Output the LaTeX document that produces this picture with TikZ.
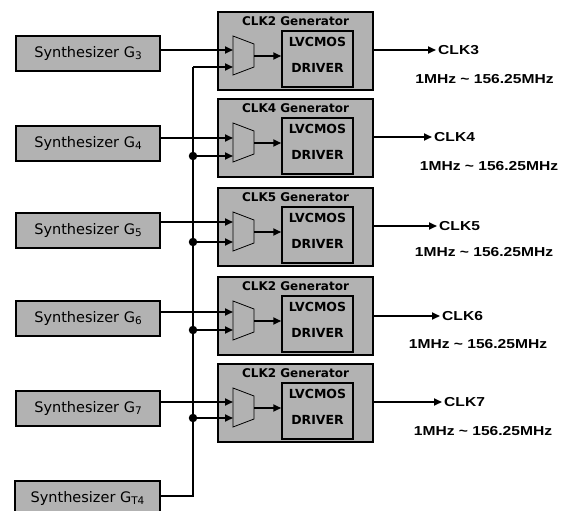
\documentclass[tikz,border=0pt]{standalone}
\usepackage{fontspec}
\setmainfont{DejaVu Sans}
\newfontfamily\lblfont[FakeStretch=1.2]{Liberation Sans}
\newcommand{\gsub}[1]{\raisebox{-0.3ex}{\fontsize{10.5}{11}\selectfont #1}}
\usetikzlibrary{arrows.meta}

\begin{document}
\begin{tikzpicture}[x=1pt,y=-1pt,
  synbox/.style={draw,line width=2pt,fill=black!30,minimum width=144pt,minimum height=35pt,inner sep=0pt,font=\fontsize{14.5}{16}\selectfont},
  genbox/.style={draw,line width=2pt,fill=black!30,minimum width=155pt,minimum height=78pt,inner sep=0pt},
  drvbox/.style={draw,line width=1.5pt,fill=black!30,minimum width=71pt,minimum height=56pt,inner sep=0pt},
  gentitle/.style={font=\bfseries\fontsize{12}{13}\selectfont,inner sep=0pt},
  drvtext/.style={align=center,font=\bfseries\fontsize{12.5}{26}\selectfont,inner sep=0pt},
  mux/.style={draw,line width=0.8pt,fill=black!30},
  sig/.style={line width=1.8pt},
  arr/.style={sig,-{Triangle[length=8pt,width=7pt]}},
  dot/.style={circle,fill,inner sep=0pt,minimum size=8.5pt},
  clk/.style={font=\lblfont\bfseries\fontsize{13}{15}\selectfont,anchor=west,inner sep=2pt},
  freq/.style={font=\lblfont\bfseries\fontsize{13}{15}\selectfont,inner sep=0pt}]
\useasboundingbox (0,0) rectangle (570,511);

% synthesizers
\node[synbox] (syn3) at (88,53.5) {Synthesizer G\gsub{3}};
\node[synbox] (syn4) at (88,143.5) {Synthesizer G\gsub{4}};
\node[synbox] (syn5) at (88,230) {Synthesizer G\gsub{5}};
\node[synbox] (syn6) at (88,318.5) {Synthesizer G\gsub{6}};
\node[synbox] (syn7) at (88,408.5) {Synthesizer G\gsub{7}};
\node[synbox,minimum width=145pt] (synt) at (87.5,498.5) {Synthesizer G\gsub{T4}};

% generator 1
\node[genbox] (gen1) at (295.5,51) {};
\node[gentitle] (tit1) at (295.5,21) {CLK2 Generator};
\node[drvbox] (drv1) at (317.5,59) {};
\node[drvtext] (txt1) at (317.5,55) {LVCMOS\\DRIVER};
\draw[mux] (233,36) -- (254,44) -- (254,67) -- (233,75) -- cycle;
\coordinate (mo1) at (254,56);
\coordinate (ia1) at (233,50);
\coordinate (ib1) at (233,67);
\draw[arr] (mo1) -- (mo1 -| drv1.west);

% generator 2
\node[genbox] (gen2) at (295.5,138) {};
\node[gentitle] (tit2) at (295.5,108) {CLK4 Generator};
\node[drvbox] (drv2) at (317.5,146) {};
\node[drvtext] (txt2) at (317.5,142) {LVCMOS\\DRIVER};
\draw[mux] (233,123) -- (254,131) -- (254,154) -- (233,162) -- cycle;
\coordinate (mo2) at (254,143);
\coordinate (ia2) at (233,138);
\coordinate (ib2) at (233,156);
\draw[arr] (mo2) -- (mo2 -| drv2.west);

% generator 3
\node[genbox] (gen3) at (295.5,227) {};
\node[gentitle] (tit3) at (295.5,197) {CLK5 Generator};
\node[drvbox] (drv3) at (317.5,235) {};
\node[drvtext] (txt3) at (317.5,231) {LVCMOS\\DRIVER};
\draw[mux] (233,212) -- (254,220) -- (254,243) -- (233,251) -- cycle;
\coordinate (mo3) at (254,232);
\coordinate (ia3) at (233,222);
\coordinate (ib3) at (233,242);
\draw[arr] (mo3) -- (mo3 -| drv3.west);

% generator 4
\node[genbox] (gen4) at (295.5,316) {};
\node[gentitle] (tit4) at (295.5,286) {CLK2 Generator};
\node[drvbox] (drv4) at (317.5,324) {};
\node[drvtext] (txt4) at (317.5,320) {LVCMOS\\DRIVER};
\draw[mux] (233,301) -- (254,309) -- (254,332) -- (233,340) -- cycle;
\coordinate (mo4) at (254,321);
\coordinate (ia4) at (233,312);
\coordinate (ib4) at (233,330);
\draw[arr] (mo4) -- (mo4 -| drv4.west);

% generator 5
\node[genbox] (gen5) at (295.5,403) {};
\node[gentitle] (tit5) at (295.5,373) {CLK2 Generator};
\node[drvbox] (drv5) at (317.5,411) {};
\node[drvtext] (txt5) at (317.5,407) {LVCMOS\\DRIVER};
\draw[mux] (233,388) -- (254,396) -- (254,419) -- (233,427) -- cycle;
\coordinate (mo5) at (254,408);
\coordinate (ia5) at (233,402);
\coordinate (ib5) at (233,418);
\draw[arr] (mo5) -- (mo5 -| drv5.west);

% synthesizer inputs
\draw[arr] (syn3.east |- ia1) -- (ia1);
\draw[arr] (syn4.east |- ia2) -- (ia2);
\draw[arr] (syn5.east |- ia3) -- (ia3);
\draw[arr] (syn6.east |- ia4) -- (ia4);
\draw[arr] (syn7.east |- ia5) -- (ia5);

% shared bus from G_T4
\coordinate (bt) at (193,67);
\coordinate (bb) at (193,496);
\draw[sig] (synt.east |- bb) -- (bb) -- (bt);
\draw[arr] (bt) -- (ib1);
\node[dot] (d2) at (ib2 -| bt) {};
\node[dot] (d3) at (ib3 -| bt) {};
\node[dot] (d4) at (ib4 -| bt) {};
\node[dot] (d5) at (ib5 -| bt) {};
\draw[arr] (d2.center) -- (ib2);
\draw[arr] (d3.center) -- (ib3);
\draw[arr] (d4.center) -- (ib4);
\draw[arr] (d5.center) -- (ib5);

% outputs
\node[clk] (clk3) at (436,50) {CLK3};
\node[clk] (clk4) at (432,137) {CLK4};
\node[clk] (clk5) at (437,226) {CLK5};
\node[clk] (clk6) at (440,316) {CLK6};
\node[clk] (clk7) at (442,402) {CLK7};
\draw[arr] (gen1.east |- clk3) -- (clk3);
\draw[arr] (gen2.east |- clk4) -- (clk4);
\draw[arr] (gen3.east |- clk5) -- (clk5);
\draw[arr] (gen4.east |- clk6) -- (clk6);
\draw[arr] (gen5.east |- clk7) -- (clk7);
\node[freq] (f3) at (484.5,79) {1MHz \textasciitilde{} 156.25MHz};
\node[freq] (f4) at (489,166) {1MHz \textasciitilde{} 156.25MHz};
\node[freq] (f5) at (484,252) {1MHz \textasciitilde{} 156.25MHz};
\node[freq] (f6) at (478,344) {1MHz \textasciitilde{} 156.25MHz};
\node[freq] (f7) at (483,431) {1MHz \textasciitilde{} 156.25MHz};
\end{tikzpicture}
\end{document}
